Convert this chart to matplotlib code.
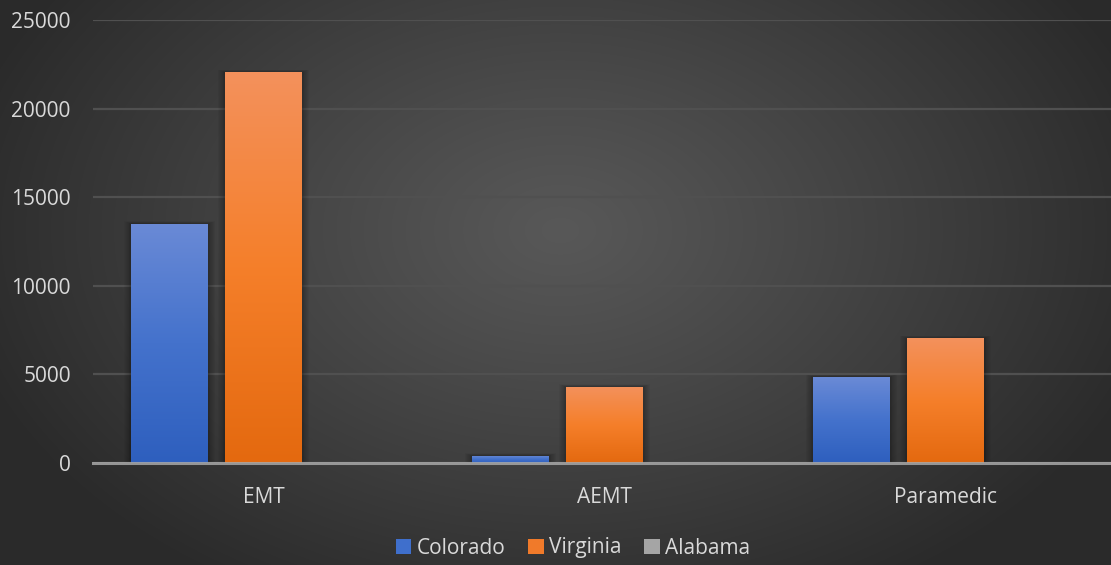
import numpy as np
import matplotlib
matplotlib.use("Agg")
import matplotlib.pyplot as plt
from matplotlib.patches import Patch
from matplotlib.colors import LinearSegmentedColormap

categories = ["EMT", "AEMT", "Paramedic"]
series_names = ["Colorado", "Virginia", "Alabama"]
colorado = [13500, 400, 4850]
virginia = [22050, 4300, 7050]
alabama = [0, 0, 0]
yticks = [0, 5000, 10000, 15000, 20000, 25000]

series = [colorado, virginia, alabama]
grad = {
    "Colorado": ["#2e5fbe", "#4472cc", "#6a8ad6"],
    "Virginia": ["#e4690f", "#f57f2a", "#f3915c"],
    "Alabama": ["#8f8f8f", "#a5a5a5", "#bdbdbd"],
}
legend_colors = ["#3f6fcc", "#f07a2a", "#a5a5a5"]

plt.rcParams["font.family"] = ["Open Sans", "DejaVu Sans"]
txt = "#d9d9d9"

W, H = 1111, 565
fig = plt.figure(figsize=(W / 100, H / 100), dpi=100)

# background radial gradient
bg = fig.add_axes([0, 0, 1, 1], zorder=0)
yy, xx = np.mgrid[0:H, 0:W]
cx, cy = 560, 230
r = np.sqrt(((xx - cx) / 620.0) ** 2 + ((yy - cy) / 420.0) ** 2)
r = np.clip(r, 0, 1)
val = 0.345 - (0.345 - 0.165) * r ** 1.1
img = np.dstack([val, val, val])
bg.imshow(img, aspect="auto", extent=[0, 1, 0, 1], origin="upper")
bg.set_axis_off()

left = 93 / W
bottom = 1 - 463 / H
top = 1 - 20 / H
ax = fig.add_axes([left, bottom, 1 - left, top - bottom], zorder=1)
ax.patch.set_alpha(0)

n = len(series)
step = 94 / 341
width = 77 / 341
x = np.arange(len(categories))

for i, (name, vals) in enumerate(zip(series_names, series)):
    offs = (i - (n - 1) / 2) * step
    bars = ax.bar(x + offs, vals, width, color="none", zorder=3, label=name)
    cmap = LinearSegmentedColormap.from_list(name, grad[name])
    for b in bars:
        bx, by = b.get_x(), b.get_y()
        bw, bh = b.get_width(), b.get_height()
        if bh <= 0:
            continue
        # soft shadow
        for k in np.linspace(0.002, 0.02, 8):
            ax.add_patch(plt.Rectangle((bx - k, by), bw + 2 * k, bh + k * 7000,
                                       color="black", alpha=0.035, zorder=2, lw=0))
        g = np.linspace(0, 1, 256).reshape(-1, 1)
        im = ax.imshow(g, cmap=cmap, aspect="auto", origin="lower",
                       extent=[bx, bx + bw, by, by + bh], zorder=3)
        im.set_clip_path(b)

ax.set_xlim(-0.5, 2.5 - 5 / 341)
ax.set_ylim(0, 25000)
ax.set_yticks(yticks)
ax.set_xticks(x)
ax.set_xticklabels(categories)
ax.yaxis.grid(True, color="#505050", lw=1.6, zorder=0)
ax.set_axisbelow(True)
for s in ["top", "right", "left"]:
    ax.spines[s].set_visible(False)
ax.spines["bottom"].set_color("#a8a8a8")
ax.spines["bottom"].set_linewidth(2.2)
ax.spines["bottom"].set_zorder(5)
ax.spines["bottom"].set_alpha(0.85)
ax.tick_params(axis="both", length=0, labelcolor=txt, labelsize=15)
ax.tick_params(axis="y", pad=16)
ax.tick_params(axis="x", pad=17)

handles = [Patch(facecolor=c, edgecolor="none") for c in legend_colors]
fig.legend(handles, series_names, loc="center", bbox_to_anchor=(573 / W, 1 - 548 / H),
           ncol=3, frameon=False, fontsize=15, labelcolor=txt,
           handlelength=0.75, handleheight=0.75, handletextpad=0.25, columnspacing=1.1)

fig.savefig("out.png", dpi=100)
